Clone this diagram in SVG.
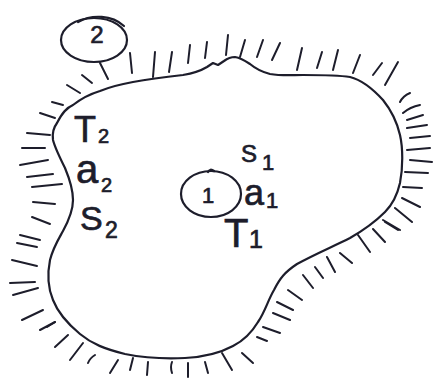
<svg xmlns="http://www.w3.org/2000/svg" width="433" height="382" viewBox="0 0 433 382">
<style>
.ink{fill:none;stroke:#1d1d2b;stroke-width:2.2;stroke-linecap:round;stroke-linejoin:round}
.h{fill:none;stroke:#1d1d2b;stroke-width:2;stroke-linecap:round}
.t{font-family:"Liberation Sans",Arial,sans-serif;fill:#1d1d2b;stroke:#1d1d2b;stroke-width:0.7}
</style>
<rect width="433" height="382" fill="#ffffff"/>
<g id="region">
<path class="ink" d="M57,123 C62,113 66,108 73,105 C82,98 90,94 100,91 C112,86 122,84 133,82 C150,79 166,77 183,75 C195,73 202,70 207,67 L213,63 L218,65 L224,61 C228,58 231,57 235,57 C241,58 244,60 250,64 C256,69 262,72 270,74 C282,76 292,75 303,75 C320,75 337,75 350,77 C362,80 372,88 383,100 C391,110 397,122 400,135 C403,148 403,168 400,183 C397,196 392,205 385,212 C375,222 364,230 350,238 C332,247 313,255 297,264 C285,272 280,278 274,290 C268,300 265,312 258,322 C252,332 245,340 233,346 C220,353 205,357 185,358 C165,359 145,358 125,354 C105,349 92,344 80,334 C68,324 58,313 53,300 C48,288 47,275 50,260 C53,248 58,240 63,231 C69,220 73,210 73,200 C73,190 70,180 65,168 C60,158 55,148 53,140 C52,133 54,127 57,123 Z"/>
</g>
<g id="boundary-hatching">
<path class="h" d="M100,63 L108,79 M130,53 L132,73 M155,52 L153,77 M172,52 L169,72 M190,45 L188,63 M207,42 L205,58 M228,35 L226,55 M245,40 L240,57 M263,40 L257,57 M280,43 L272,60 M302,48 L297,70 M322,52 L317,68 M338,50 L333,70 M360,55 L353,73 M382,63 L373,75 M398,62 L385,85"/>
<path class="h" d="M410,93 Q403,96 400,102 M420,105 Q410,107 403,113 M423,115 L407,120 M427,125 L407,128 M430,136 L410,138 M430,148 L407,150 M432,162 L410,160 M428,173 L405,172 M422,188 L403,187 M420,207 L402,198 M412,222 L395,208 M400,230 L383,220 M398,230 L385,222 M385,242 L373,229 M370,252 L358,235 M352,263 L340,253 M335,272 L327,257 M323,278 L315,267 M313,288 L303,275 M302,300 L288,290 M293,310 L277,302 M290,320 L273,313 M280,333 L263,327 M267,341 L257,337"/>
<path class="h" d="M253,363 L242,353 M232,370 L222,353 M208,373 L205,362 M188,377 L188,363 M172,373 Q170,367 172,362 M147,375 L148,362 M130,370 L133,358 M110,373 L118,360 M88,363 Q90,358 95,355 M70,360 L83,343 M55,347 L68,335 M47,327 L55,322"/>
<path class="h" d="M40,330 L55,322 M22,320 L43,310 M13,295 L38,288 M10,283 L35,282 M12,260 L37,266 M17,243 L37,247 M20,235 L40,240 M32,217 L50,224 M33,202 L55,204 M32,187 L62,184 M27,177 L53,174 M20,165 L48,160 M22,148 L45,148 M27,133 L50,135 M40,113 L55,118 M52,102 L63,105 M67,85 L80,93 M82,75 L92,83"/>
</g>
<g id="node-2">
<ellipse class="ink" cx="94" cy="40" rx="33" ry="22"/>
<path class="ink" d="M78,22 C92,14 112,15 124,26"/>
<text class="t" x="97" y="43" font-size="24" text-anchor="middle">2</text>
</g>
<g id="node-1">
<ellipse class="ink" cx="211" cy="194" rx="30" ry="23"/>
<path class="ink" d="M208,172 Q210,168 214,171"/>
<text class="t" x="208" y="203" font-size="22" text-anchor="middle">1</text>
</g>
<g id="labels-2">
<text class="t" x="74" y="142" font-size="36">T</text>
<text class="t" x="98" y="143" font-size="20">2</text>
<text class="t" x="76" y="183" font-size="40">a</text>
<text class="t" x="101" y="192" font-size="20">2</text>
<text class="t" x="80" y="230" font-size="34">S</text>
<text class="t" x="105" y="238" font-size="23">2</text>
</g>
<g id="labels-1">
<text class="t" x="241" y="162" font-size="24">S</text>
<text class="t" x="262" y="170" font-size="22">1</text>
<text class="t" x="244" y="205" font-size="36">a</text>
<text class="t" x="266" y="208" font-size="22">1</text>
<text class="t" x="224" y="247" font-size="40">T</text>
<text class="t" x="249" y="248" font-size="25">1</text>
</g>
</svg>
